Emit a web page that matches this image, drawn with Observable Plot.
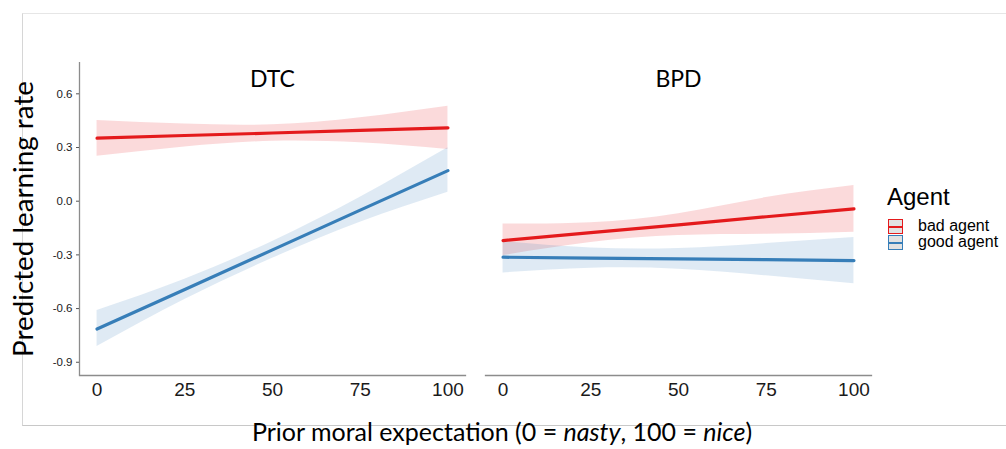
<!DOCTYPE html>
<html><head><meta charset="utf-8">
<script src="https://cdn.jsdelivr.net/npm/d3@7"></script>
<script src="https://cdn.jsdelivr.net/npm/@observablehq/plot@0.6"></script>
<style>
html,body{margin:0;padding:0;background:#fff;}
#wrap{position:relative;width:1006px;height:449px;overflow:hidden;background:#fff;}
#border{position:absolute;left:22px;top:13px;width:983px;height:411px;border-top:1px solid #e6e6e6;border-left:1px solid #d6d6d6;border-bottom:1px solid #c8c8c8;}
#chart{position:absolute;left:0;top:0;}
#chart svg{background:transparent;}
.title{position:absolute;font-family:Lato,'Open Sans',sans-serif;color:#000;white-space:nowrap;line-height:1;}
#ytitle{left:23px;top:219px;font-size:27.8px;transform:translate(-50%,-50%) rotate(-90deg);}
#xtitle{left:502px;top:418.5px;font-size:25px;transform:translateX(-50%);}
.leg{position:absolute;font-family:'Liberation Sans',Arial,sans-serif;color:#000;white-space:nowrap;line-height:1;}
.key{position:absolute;width:13px;height:13px;border:1px solid;background:#e2e2e2;}
.key span{position:absolute;left:0;right:0;top:5.5px;height:2.2px;}
</style></head><body>
<div id="wrap">
 <div id="border"></div>
 <div id="chart"></div>
 <div class="title" id="ytitle">Predicted learning rate</div>
 <div class="title" id="xtitle">Prior moral expectation (0 = <i>nasty</i>, 100 = <i>nice</i>)</div>
 <div id="legend"></div>
</div>
<script>
const panels = ["DTC", "BPD"];
const agents = ["bad agent", "good agent"];
const agentColors = ["#E41A1C", "#377EB8"];
const expectation = [0, 25, 50, 75, 100];
const xTicks = [0, 25, 50, 75, 100];
const yTicks = [-0.9, -0.6, -0.3, 0, 0.3, 0.6];

const dtcBadFit  = [0.352, 0.367, 0.381, 0.396, 0.410];
const dtcBadLow  = [0.251, 0.303, 0.335, 0.326, 0.289];
const dtcBadHigh = [0.451, 0.431, 0.427, 0.466, 0.531];
const dtcGoodFit  = [-0.714, -0.493, -0.272, -0.050, 0.171];
const dtcGoodLow  = [-0.812, -0.550, -0.319, -0.118, 0.050];
const dtcGoodHigh = [-0.611, -0.436, -0.225, 0.022, 0.298];
const bpdBadFit  = [-0.220, -0.176, -0.132, -0.087, -0.043];
const bpdBadLow  = [-0.304, -0.231, -0.192, -0.185, -0.173];
const bpdBadHigh = [-0.127, -0.121, -0.070, 0.020, 0.087];
const bpdGoodFit  = [-0.313, -0.318, -0.322, -0.327, -0.332];
const bpdGoodLow  = [-0.401, -0.375, -0.380, -0.417, -0.461];
const bpdGoodHigh = [-0.225, -0.261, -0.264, -0.237, -0.203];

const series = [
  {panel: panels[0], agent: agents[0], fit: dtcBadFit, low: dtcBadLow, high: dtcBadHigh},
  {panel: panels[0], agent: agents[1], fit: dtcGoodFit, low: dtcGoodLow, high: dtcGoodHigh},
  {panel: panels[1], agent: agents[0], fit: bpdBadFit, low: bpdBadLow, high: bpdBadHigh},
  {panel: panels[1], agent: agents[1], fit: bpdGoodFit, low: bpdGoodLow, high: bpdGoodHigh}
];
const rows = series.flatMap(s => expectation.map((x, i) => ({
  panel: s.panel, agent: s.agent, x, fit: s.fit[i], low: s.low[i], high: s.high[i]
})));

const xDomain = [-5, 105];
const yDomain = [-0.974, 0.775];
const axisGray = "#8c8c8c";

const chart = Plot.plot({
  width: 880, height: 400,
  marginLeft: 79, marginRight: 9, marginTop: 62, marginBottom: 25,
  style: {fontFamily: "'Liberation Sans', Arial, sans-serif", color: "#222", background: "transparent"},
  fx: {domain: panels, paddingInner: 0.0493, paddingOuter: 0, axis: null, label: null, round: false},
  x: {domain: xDomain, label: null},
  y: {domain: yDomain, label: null},
  color: {domain: agents, range: agentColors},
  marks: [
    Plot.areaY(rows, {fx: "panel", x: "x", y1: "low", y2: "high", z: "agent", fill: "agent", fillOpacity: 0.16, curve: "natural"}),
    Plot.lineY(rows, {fx: "panel", x: "x", y: "fit", z: "agent", stroke: "agent", strokeWidth: 3.2}),
    Plot.frame({anchor: "bottom", stroke: axisGray, strokeWidth: 1.3}),
    Plot.ruleX([panels[0]], {fx: d => d, x: xDomain[0], stroke: axisGray, strokeWidth: 1.3}),
    Plot.axisX({ticks: xTicks, tickSize: 0, tickPadding: 7, fontSize: 19, label: null, fill: "#1a1a1a"}),
    Plot.axisY({ticks: yTicks, tickSize: 3, tickPadding: 4, fontSize: 11.5, label: null, stroke: "#555", fill: "#1a1a1a", tickFormat: d => d.toFixed(1)}),
    Plot.text(panels, {fx: d => d, text: d => d, frameAnchor: "top", dy: 8, fontSize: 23, fontFamily: "Lato", fill: "#000"})
  ]
});
document.getElementById("chart").appendChild(chart);

// legend
const legend = document.getElementById("legend");
const t = document.createElement("div");
t.className = "leg"; t.textContent = "Agent";
t.style.cssText = "left:887px;top:184.5px;font-size:24px;";
legend.appendChild(t);
agents.forEach((a, i) => {
  const k = document.createElement("div");
  k.className = "key";
  k.style.left = "888px"; k.style.top = (219 + i * 16) + "px";
  k.style.borderColor = agentColors[i];
  const ln = document.createElement("span");
  ln.style.background = agentColors[i];
  k.appendChild(ln);
  legend.appendChild(k);
  const l = document.createElement("div");
  l.className = "leg"; l.textContent = a;
  l.style.cssText = `left:918px;top:${218.2 + i * 16}px;font-size:16px;`;
  legend.appendChild(l);
});
</script>
</body></html>
